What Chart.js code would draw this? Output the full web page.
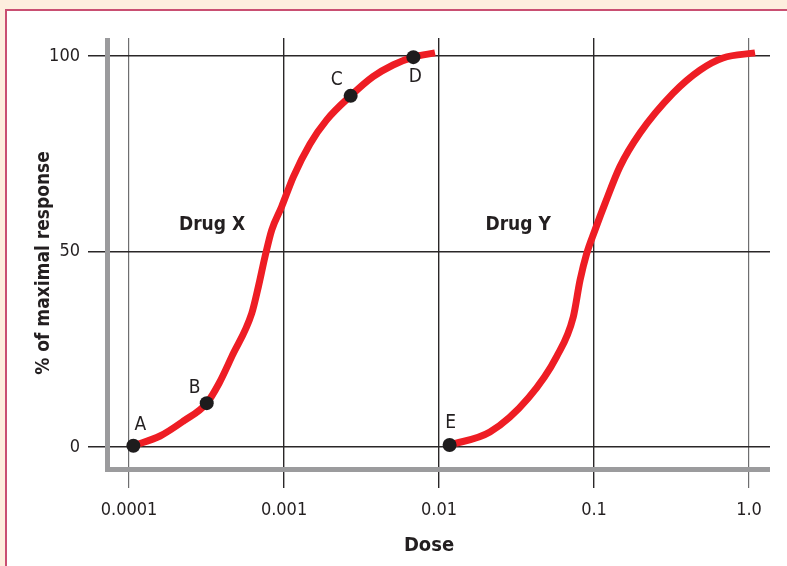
<!DOCTYPE html>
<html>
<head>
<meta charset="utf-8">
<script src="https://cdn.jsdelivr.net/npm/chart.js@4/dist/chart.umd.min.js"></script>
<style>
  html, body { margin: 0; padding: 0; background: #fdeede; width: 787px; height: 566px; overflow: hidden; }
  #panel { position: absolute; left: 5px; top: 9px; width: 800px; height: 600px; background: #ffffff; border: 2px solid #c94f72; }
  #wrap { position: absolute; left: 0; top: 0; width: 787px; height: 566px; }
</style>
</head>
<body>
<div id="panel"></div>
<div id="wrap"><canvas id="c" width="787" height="566"></canvas></div>
<script>
// ---- data ----
const drugXDose = [0.0001066, 0.0001585, 0.000224, 0.000317, 0.000381, 0.00046, 0.000619, 0.000683, 0.000754, 0.000833, 0.000966, 0.001148, 0.00147, 0.00188, 0.00269, 0.00375, 0.00505, 0.00683, 0.00942];
const drugXResp = [0.3, 2.8, 6.6, 11.2, 16.3, 23.1, 34.2, 41, 48.7, 55.5, 61.5, 69.1, 77.5, 83.6, 89.8, 94.7, 97.7, 99.7, 100.8];
const drugYDose = [0.0117, 0.0213, 0.0377, 0.0574, 0.0735, 0.0813, 0.0897, 0.1015, 0.1178, 0.147, 0.198, 0.324, 0.483, 0.679, 1.094];
const drugYResp = [0.5, 3.8, 12.5, 23.1, 33.3, 42.7, 49.5, 55.5, 62.3, 71.7, 80.3, 90.5, 96.4, 99.5, 100.8];
const pointNames = ['A', 'B', 'C', 'D', 'E'];
const pointDose = [0.0001066, 0.000317, 0.00269, 0.00683, 0.0117];
const pointResp = [0.3, 11.2, 89.8, 99.7, 0.5];
const drugNames = ['Drug X', 'Drug Y'];
const drugLabelDose = [0.000343, 0.0324];
const drugLabelResp = [56.8, 56.8];
const xTicks = [0.0001, 0.001, 0.01, 0.1, 1];
const xTickLabels = ['0.0001', '0.001', '0.01', '0.1', '1.0'];
const yTicks = [0, 50, 100];
const yTickLabels = ['0', '50', '100'];

// ---- styles ----
const FONT = "'DejaVu Sans Condensed', 'Liberation Sans Narrow', 'DejaVu Sans', sans-serif";
const RED = '#ee1d24';
const INK = '#231f20';
const pointLabelOffset = { A: [7, -21], B: [-12, -15], C: [-14, -16], D: [2, 20], E: [1, -22] };

const toXY = (xs, ys) => xs.map((x, i) => ({ x: x, y: ys[i] }));

const decorPlugin = {
  id: 'decor',
  beforeDatasetsDraw(chart) {
    const { ctx, chartArea } = chart;
    ctx.save();
    ctx.fillStyle = '#9b9b9d';
    ctx.fillRect(chartArea.left + 17, chartArea.top, 5, chartArea.bottom - chartArea.top - 16);
    ctx.fillRect(chartArea.left + 17, chartArea.bottom - 21, chartArea.right - chartArea.left - 17, 5);
    ctx.restore();
  },
  afterDatasetsDraw(chart) {
    const { ctx } = chart;
    const xs = chart.scales.x, ys = chart.scales.y;
    ctx.save();
    ctx.fillStyle = INK;
    ctx.textAlign = 'center';
    ctx.textBaseline = 'middle';
    ctx.font = '19px ' + FONT;
    pointNames.forEach((n, i) => {
      const px = xs.getPixelForValue(pointDose[i]);
      const py = ys.getPixelForValue(pointResp[i]);
      const o = pointLabelOffset[n];
      ctx.fillText(n, px + o[0], py + o[1]);
    });
    ctx.font = 'bold 19px ' + FONT;
    drugNames.forEach((n, i) => {
      ctx.fillText(n, xs.getPixelForValue(drugLabelDose[i]), ys.getPixelForValue(drugLabelResp[i]));
    });
    ctx.restore();
  }
};

new Chart(document.getElementById('c'), {
  type: 'scatter',
  data: {
    datasets: [
      { data: toXY(pointDose, pointResp), showLine: false, pointRadius: 7, pointBackgroundColor: '#1e1c1d', pointBorderWidth: 0, order: 0 },
      { data: toXY(drugXDose, drugXResp), showLine: true, borderColor: RED, borderWidth: 7, pointRadius: 0, cubicInterpolationMode: 'monotone', order: 1 },
      { data: toXY(drugYDose, drugYResp), showLine: true, borderColor: RED, borderWidth: 7, pointRadius: 0, cubicInterpolationMode: 'monotone', order: 1 }
    ]
  },
  options: {
    responsive: false,
    animation: false,
    devicePixelRatio: 1,
    layout: { padding: { left: 0, right: 17, top: 38, bottom: 0 } },
    plugins: { legend: { display: false }, tooltip: { enabled: false } },
    scales: {
      x: {
        type: 'logarithmic',
        min: Math.pow(10, -4.265),
        max: Math.pow(10, 0.1355),
        afterFit: (s) => { s.height = 78; },
        afterBuildTicks: (s) => { s.ticks = xTicks.map(v => ({ value: v })); },
        ticks: {
          autoSkip: false, maxRotation: 0, padding: 12,
          color: INK, font: { family: FONT, size: 18 },
          callback: (v, i) => xTickLabels[i]
        },
        grid: {
          drawTicks: false,
          color: (c) => (c.index === 0 || c.index === xTicks.length - 1) ? '#6e6e70' : '#2a2728',
          lineWidth: (c) => (c.index === 0 || c.index === xTicks.length - 1) ? 1.2 : 1.4
        },
        border: { display: false },
        title: { display: true, text: 'Dose', color: INK, font: { family: FONT, size: 20, weight: 'bold' }, padding: { top: 0, bottom: 8 } }
      },
      y: {
        min: -10.5,
        max: 104.6,
        afterFit: (s) => { s.width = 88; },
        afterBuildTicks: (s) => { s.ticks = yTicks.map(v => ({ value: v })); },
        ticks: {
          padding: 8,
          color: INK, font: { family: FONT, size: 18 },
          callback: (v, i) => yTickLabels[i]
        },
        grid: { drawTicks: false, color: '#2a2728', lineWidth: 1.4 },
        border: { display: false },
        title: { display: true, text: '% of maximal response', color: INK, font: { family: FONT, size: 19, weight: 'bold' }, padding: { top: 33, bottom: 0 } }
      }
    }
  },
  plugins: [decorPlugin]
});
</script>
</body>
</html>
